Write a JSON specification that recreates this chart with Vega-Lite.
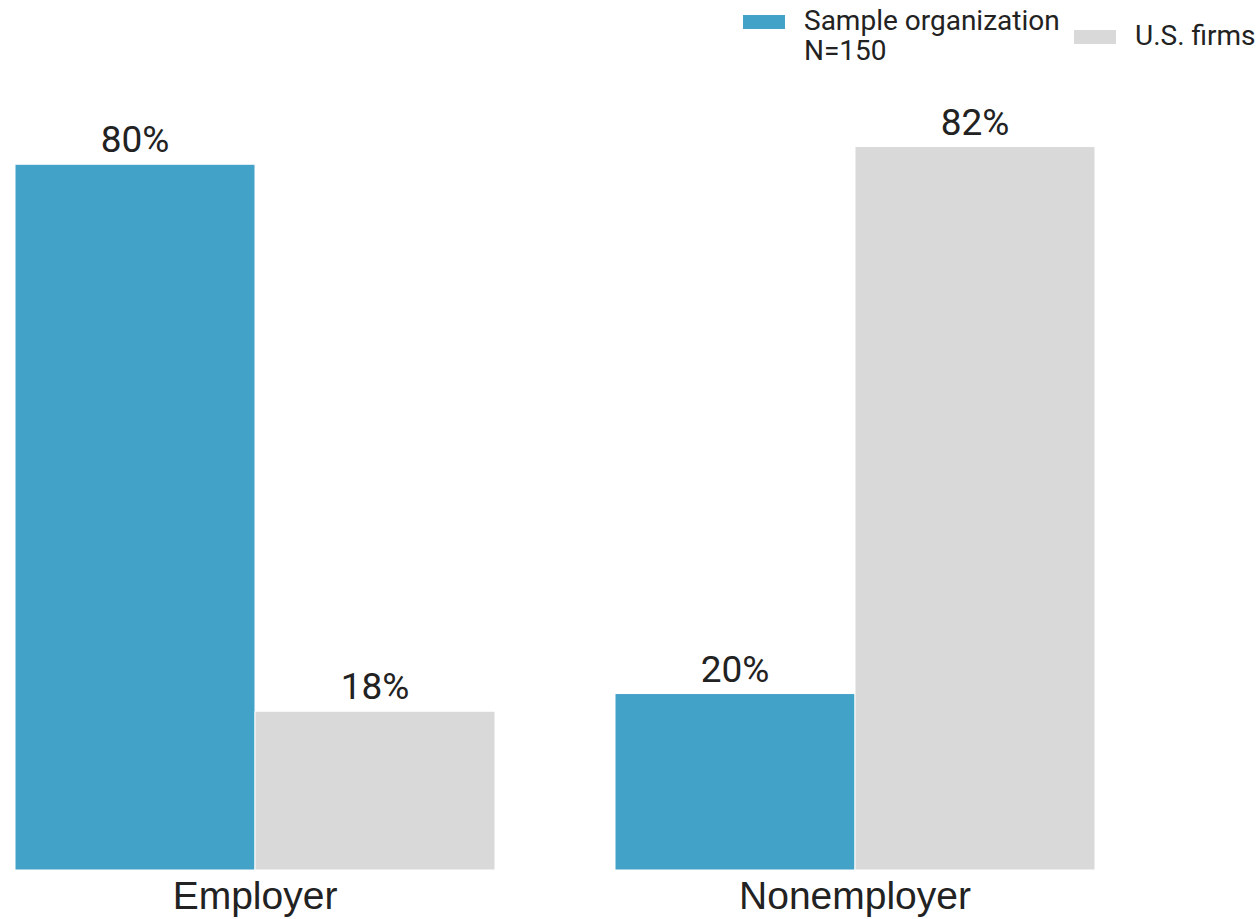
{
  "$schema": "https://vega.github.io/schema/vega-lite/v6.json",
  "autosize": "none",
  "width": 1080,
  "height": 794,
  "padding": {"left": 15, "top": 76, "right": 165, "bottom": 49},
  "background": "white",
  "config": {"view": {"stroke": null}, "font": "Roboto", "style": {"guide-label": {"lineHeight": 30}}},
  "data": {"values": [
    {"type": "Employer", "group": "Sample organization", "value": 0.80},
    {"type": "Employer", "group": "U.S. firms", "value": 0.18},
    {"type": "Nonemployer", "group": "Sample organization", "value": 0.20},
    {"type": "Nonemployer", "group": "U.S. firms", "value": 0.82}
  ]},
  "encoding": {
    "x": {"field": "type", "type": "nominal", "sort": ["Employer", "Nonemployer"],
      "scale": {"paddingInner": 0.2, "paddingOuter": 0},
      "axis": {"title": null, "domain": false, "ticks": false, "labelAngle": 0,
        "labelFont": "Liberation Sans", "labelFontSize": 39, "labelColor": "#222222",
        "labelPadding": 7, "labelBaseline": "top", "labelLimit": 500}},
    "xOffset": {"field": "group", "type": "nominal", "sort": ["Sample organization", "U.S. firms"], "scale": {"paddingInner": 0, "paddingOuter": 0}},
    "y": {"field": "value", "type": "quantitative", "scale": {"domain": [0, 0.9]}, "axis": null}
  },
  "layer": [
    {
      "mark": {"type": "bar", "stroke": "white", "strokeWidth": 1},
      "encoding": {
        "color": {"field": "group", "type": "nominal",
          "scale": {"domain": ["Sample organization", "U.S. firms"], "range": ["#42A2C8", "#D9D9D9"]},
          "legend": {"title": null, "orient": "none", "legendX": 728, "legendY": -75,
            "direction": "horizontal", "padding": 0,
            "symbolType": "M-1,-0.333H1V0.333H-1Z", "symbolSize": 1764, "symbolStrokeWidth": 0,
            "labelFont": "Roboto", "labelFontSize": 28, "labelColor": "#222222", "labelOffset": 19,
            "columnPadding": 14, "labelLimit": 400,
            "labelExpr": "datum.label == 'Sample organization' ? ['Sample organization', 'N=150'] : datum.label",
            "encode": {"symbols": {
              "shape": {"value": {"expr": "datum.index == 0 ? 'M-1,0.571H1V1.238H-1Z' : 'M-1,-0.333H1V0.333H-1Z'"}}}}}}
      }
    },
    {
      "mark": {"type": "text", "baseline": "alphabetic", "dy": -12, "font": "Roboto", "fontSize": 37, "color": "#222222"},
      "encoding": {"text": {"field": "value", "type": "quantitative", "format": ".0%"}}
    }
  ]
}
